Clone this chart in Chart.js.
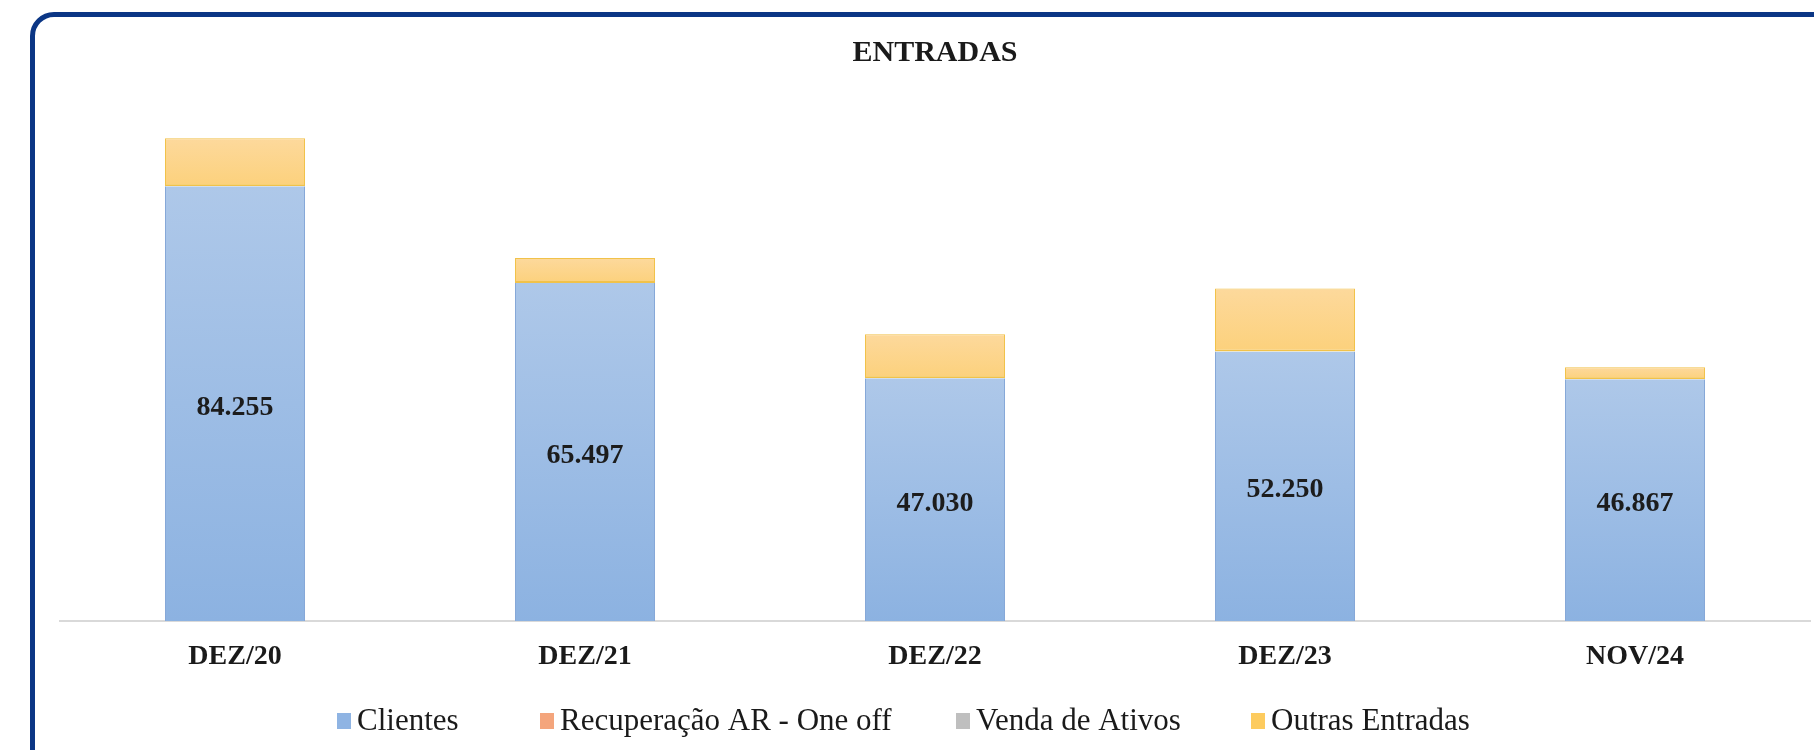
<!DOCTYPE html>
<html>
<head>
<meta charset="utf-8">
<script src="https://cdn.jsdelivr.net/npm/chart.js@4.4.1/dist/chart.umd.min.js"></script>
<style>
  html, body { margin: 0; padding: 0; background: #fff; overflow: hidden; }
  #wrap { position: relative; width: 1814px; height: 750px; }
  #frame {
    position: absolute; left: 30px; top: 12px; width: 1820px; height: 800px;
    border: 5px solid #0b3685; border-radius: 24px; box-sizing: border-box;
  }
  #chartEntradas { position: absolute; left: 0; top: 0; }
</style>
</head>
<body>
<div id="wrap">
  <div id="frame"></div>
  <canvas id="chartEntradas" width="1814" height="750"></canvas>
</div>
<script>
const periodos = ['DEZ/20', 'DEZ/21', 'DEZ/22', 'DEZ/23', 'NOV/24'];
const clientes = [84255, 65497, 47030, 52250, 46867];
const recuperacao = [0, 0, 0, 0, 0];
const vendaAtivos = [0, 0, 0, 0, 0];
const outrasEntradas = [9300, 4840, 8520, 12200, 2320];
const yMax = 100000;

const coresLegenda = ['#8fb4e3', '#f4a57c', '#bfbfbf', '#fdcb5e'];
// deslocamento de cada item da legenda em relação ao centro do gráfico
const offsetLegenda = [-598, -395, 21, 316];
const fonte = "'Liberation Serif', 'DejaVu Serif', serif";

// gradiente vertical por barra, como no Excel
function gradiente(ctx, topo, base, cTopo, cBase) {
    const chart = ctx.chart;
    const y = chart.scales && chart.scales.y;
    if (!y || !chart.chartArea) return cBase;
    const i = ctx.dataIndex;
    if (i === undefined) return cBase;
    const y0 = y.getPixelForValue(base(i));
    const y1 = y.getPixelForValue(topo(i));
    if (!isFinite(y0) || !isFinite(y1) || y0 === y1) return cBase;
    const g = chart.ctx.createLinearGradient(0, y1, 0, y0);
    g.addColorStop(0, cTopo);
    g.addColorStop(1, cBase);
    return g;
}

const rotulosClientes = {
    id: 'rotulosClientes',
    afterDatasetsDraw(chart) {
        const ctx = chart.ctx;
        const meta = chart.getDatasetMeta(0);
        ctx.save();
        ctx.font = 'bold 28px ' + fonte;
        ctx.fillStyle = '#1c1c1c';
        ctx.textAlign = 'center';
        ctx.textBaseline = 'middle';
        meta.data.forEach((bar, i) => {
            const v = clientes[i].toLocaleString('pt-BR');
            ctx.fillText(v, bar.x, (bar.y + bar.base) / 2 + 4);
        });
        ctx.restore();
    }
};

const legendaBaixo = {
    id: 'legendaBaixo',
    afterDraw(chart) {
        const ctx = chart.ctx;
        const area = chart.chartArea;
        const centro = (area.left + area.right) / 2;
        const caixa = 14, gap = 6;
        const y = 721;
        ctx.save();
        ctx.font = '31px ' + fonte;
        ctx.textBaseline = 'middle';
        ctx.textAlign = 'left';
        chart.data.datasets.forEach((ds, i) => {
            const x = centro + offsetLegenda[i];
            ctx.fillStyle = coresLegenda[i];
            ctx.fillRect(x, y - 8, caixa, 16);
            ctx.fillStyle = '#1a1a1a';
            ctx.fillText(ds.label, x + caixa + gap, y + 1);
        });
        ctx.restore();
    }
};

document.addEventListener('DOMContentLoaded', function () {
    const ctxEntradas = document.getElementById('chartEntradas');
    new Chart(ctxEntradas, {
        type: 'bar',
        data: {
            labels: periodos,
            datasets: [{
                label: 'Clientes',
                data: clientes,
                backgroundColor: (c) => gradiente(c, i => clientes[i], () => 0, '#aec8e9', '#8cb2e1'),
                borderColor: '#86a8d8',
                borderWidth: { left: 1, right: 1, top: 0, bottom: 0 },
                borderSkipped: false
            }, {
                label: 'Recuperação AR - One off',
                data: recuperacao,
                backgroundColor: '#f4a57c'
            }, {
                label: 'Venda de Ativos',
                data: vendaAtivos,
                backgroundColor: '#bfbfbf'
            }, {
                label: 'Outras Entradas',
                data: outrasEntradas,
                backgroundColor: (c) => gradiente(c, i => clientes[i] + outrasEntradas[i], i => clientes[i], '#fdd99c', '#fcd17c'),
                borderColor: '#f1c24a',
                borderWidth: { left: 1, right: 1, top: 1, bottom: 2 },
                borderSkipped: false
            }]
        },
        options: {
            responsive: false,
            animation: false,
            layout: { padding: { left: 60, right: 4, top: 0, bottom: 69 } },
            datasets: {
                bar: { categoryPercentage: 1, barPercentage: 0.4 }
            },
            plugins: {
                legend: { display: false },
                tooltip: { enabled: false },
                title: {
                    display: true,
                    text: 'ENTRADAS',
                    color: '#1a1a1a',
                    font: { family: fonte, size: 30, weight: 'bold' },
                    padding: { top: 35, bottom: 34 }
                }
            },
            scales: {
                x: {
                    stacked: true,
                    grid: { display: false },
                    border: { display: true, color: '#d9d9d9', width: 2 },
                    ticks: {
                        color: '#1a1a1a',
                        padding: 11,
                        font: { family: fonte, size: 28, weight: 'bold' }
                    },
                    afterFit: (axis) => { axis.height = 60; }
                },
                y: {
                    stacked: true,
                    display: false,
                    min: 0,
                    max: yMax
                }
            }
        },
        plugins: [rotulosClientes, legendaBaixo]
    });
});
</script>
</body>
</html>
